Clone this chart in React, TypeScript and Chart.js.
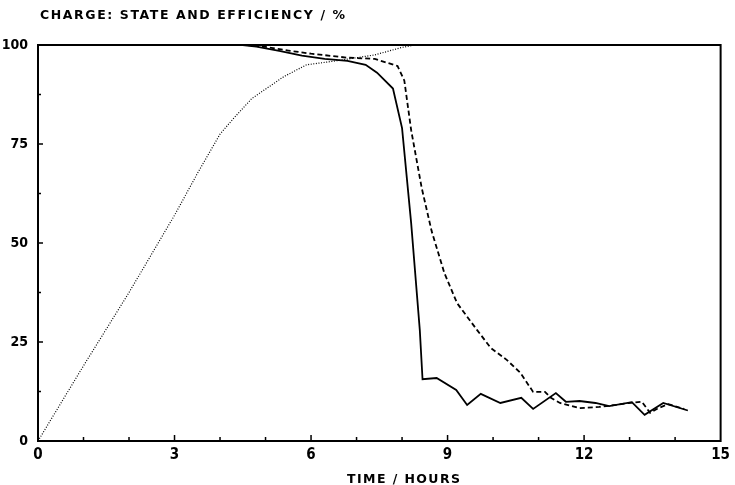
import React, { useEffect, useRef } from "react";
import { Chart, registerables } from "chart.js";

Chart.register(...registerables);

// Dotted curve: state of charge (%)
const SOC_TIME = [0, 1, 2, 3, 3.5, 4, 4.3, 4.7, 5.4, 5.9, 6.55, 7.4, 8.0, 8.3, 9, 10, 11, 12, 13, 14.3];
const SOC_VALUE = [0, 19, 37.5, 57, 67.5, 77.5, 81.5, 86.5, 92, 95, 96, 97.5, 99.4, 100, 100, 100, 100, 100, 100, 100];

// Solid curve: efficiency (%)
const EFF_TIME = [0, 4.5, 4.8, 5.3, 5.8, 6.3, 6.8, 7.2, 7.45, 7.8, 8.0, 8.2, 8.39, 8.45, 8.76, 9.19, 9.43, 9.73, 10.16, 10.62, 10.88, 11.38, 11.6, 11.9, 12.25, 12.55, 13.05, 13.33, 13.74, 14.28];
const EFF_VALUE = [100, 100, 99.6, 98.5, 97.3, 96.5, 96, 95, 93, 89, 79, 55, 28, 15.6, 15.9, 12.9, 9.1, 11.9, 9.6, 10.9, 8.1, 12.1, 9.9, 10.1, 9.6, 8.8, 9.8, 6.6, 9.6, 7.7];

// Dashed curve: second efficiency (%)
const EFF2_TIME = [0, 4.6, 5.0, 5.5, 6.0, 6.8, 7.4, 7.9, 8.05, 8.2, 8.43, 8.65, 8.93, 9.21, 9.65, 9.95, 10.3, 10.6, 10.88, 11.14, 11.27, 11.47, 11.9, 12.33, 12.7, 12.98, 13.27, 13.45, 13.63, 13.85, 14.2];
const EFF2_VALUE = [100, 100, 99.5, 98.6, 97.8, 96.8, 96.5, 94.7, 91, 78.5, 64, 53, 42.4, 34.8, 28, 23.5, 20.5, 17.2, 12.4, 12.4, 10.9, 9.6, 8.3, 8.6, 9.1, 9.6, 9.9, 7.1, 8.3, 9.3, 8.1];

const X_TICK_VALUES = [0, 3, 6, 9, 12, 15];
const X_TICK_LABELS = ["0", "3", "6", "9", "12", "15"];
const Y_TICK_VALUES = [0, 25, 50, 75, 100];
const Y_TICK_LABELS = ["0", "25", "50", "75", "100"];

const TITLE = "CHARGE: STATE AND EFFICIENCY / %";
const X_TITLE = "TIME / HOURS";

const pts = (t: number[], v: number[]) => t.map((x, i) => ({ x, y: v[i] }));

const TICK_FONT = "'Liberation Sans Narrow', 'DejaVu Sans Condensed', sans-serif";

function drawSpaced(ctx: CanvasRenderingContext2D, text: string, x: number, y: number, width: number) {
  ctx.save();
  ctx.font = "bold 12.5px 'DejaVu Sans', sans-serif";
  ctx.fillStyle = "#000";
  ctx.textBaseline = "alphabetic";
  ctx.textAlign = "left";
  (ctx as any).letterSpacing = "0px";
  const w = ctx.measureText(text).width;
  const sp = (width - w) / (text.length - 1);
  (ctx as any).letterSpacing = sp + "px";
  ctx.fillText(text, x, y);
  ctx.restore();
}

const framePlugin = {
  id: "frame",
  afterDraw(chart: any) {
    const ctx: CanvasRenderingContext2D = chart.ctx;
    const a = chart.chartArea;
    const xs = chart.scales.x;
    const ys = chart.scales.y;
    ctx.save();
    ctx.strokeStyle = "#000";
    ctx.lineWidth = 2;
    ctx.strokeRect(a.left, a.top, a.right - a.left, a.bottom - a.top);
    ctx.lineWidth = 1.5;
    ctx.beginPath();
    for (let v = 1; v < 15; v++) {
      const px = xs.getPixelForValue(v);
      const len = v % 3 === 0 ? 6 : 4;
      ctx.moveTo(px, a.bottom);
      ctx.lineTo(px, a.bottom - len);
    }
    for (let v = 12.5; v < 100; v += 12.5) {
      const py = ys.getPixelForValue(v);
      const len = v % 25 === 0 ? 5 : 3;
      ctx.moveTo(a.left, py);
      ctx.lineTo(a.left + len, py);
    }
    ctx.stroke();
    ctx.restore();
    drawSpaced(ctx, TITLE, 40, 19, 305);
    drawSpaced(ctx, X_TITLE, 347, 483, 113);
  },
};

export default function App() {
  const ref = useRef<HTMLCanvasElement>(null);
  useEffect(() => {
    if (!ref.current) return;
    const chart = new Chart(ref.current, {
      type: "line",
      data: {
        datasets: [
          {
            label: "State of charge",
            data: pts(SOC_TIME, SOC_VALUE),
            borderColor: "#000",
            borderWidth: 1.2,
            borderDash: [1, 1.6],
            pointRadius: 0,
            tension: 0,
          },
          {
            label: "Efficiency",
            data: pts(EFF_TIME, EFF_VALUE),
            borderColor: "#000",
            borderWidth: 1.8,
            pointRadius: 0,
            tension: 0,
          },
          {
            label: "Efficiency 2",
            data: pts(EFF2_TIME, EFF2_VALUE),
            borderColor: "#000",
            borderWidth: 1.8,
            borderDash: [5, 3],
            pointRadius: 0,
            tension: 0,
          },
        ],
      },
      options: {
        animation: false,
        responsive: false,
        layout: { padding: { top: 45, right: 5, left: 0, bottom: 0 } },
        plugins: { legend: { display: false }, tooltip: { enabled: false }, title: { display: false } },
        scales: {
          x: {
            type: "linear",
            min: 0,
            max: 15,
            afterFit: (s: any) => { s.height = 44; },
            afterBuildTicks: (s: any) => { s.ticks = X_TICK_VALUES.map((v) => ({ value: v })); },
            ticks: {
              autoSkip: false,
              maxRotation: 0,
              padding: 5,
              color: "#000",
              font: { family: TICK_FONT, size: 15, weight: "bold" },
              callback: (v: any) => { const i = X_TICK_VALUES.indexOf(Number(v)); return i >= 0 ? X_TICK_LABELS[i] : ""; },
            },
            grid: { display: false, drawTicks: false },
            border: { display: false },
          },
          y: {
            type: "linear",
            min: 0,
            max: 100,
            afterFit: (s: any) => { s.width = 38; },
            afterBuildTicks: (s: any) => { s.ticks = Y_TICK_VALUES.map((v) => ({ value: v })); },
            ticks: {
              autoSkip: false,
              padding: 10,
              color: "#000",
              font: { family: TICK_FONT, size: 14, weight: "bold" },
              callback: (v: any) => { const i = Y_TICK_VALUES.indexOf(Number(v)); return i >= 0 ? Y_TICK_LABELS[i] : ""; },
            },
            grid: { display: false, drawTicks: false },
            border: { display: false },
          },
        },
      },
      plugins: [framePlugin],
    } as any);
    return () => chart.destroy();
  }, []);
  return (
    <div style={{ position: "fixed", left: 0, top: 0, width: 735, height: 485, background: "#fff" }}>
      <canvas ref={ref} width={735} height={485} />
    </div>
  );
}
